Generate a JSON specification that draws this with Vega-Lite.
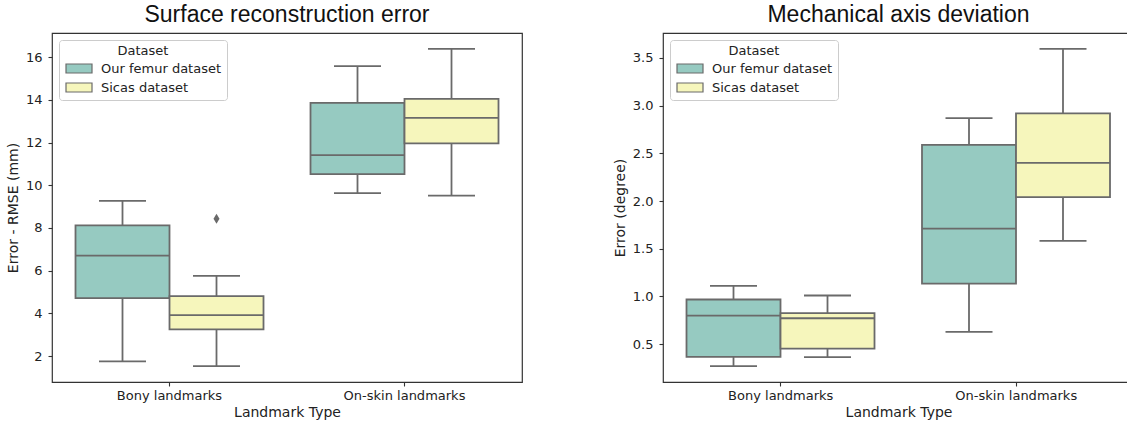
{
  "$schema": "https://vega.github.io/schema/vega-lite/v6.json",
  "background": "white",
  "padding": {"left": 5, "top": 3, "right": 0, "bottom": 0},
  "datasets": {
    "surface": [
      {"type": "Bony landmarks", "dataset": "Our femur dataset", "lower": 1.75, "q1": 4.72, "median": 6.71, "q3": 8.12, "upper": 9.27},
      {"type": "Bony landmarks", "dataset": "Sicas dataset", "lower": 1.53, "q1": 3.25, "median": 3.92, "q3": 4.81, "upper": 5.76},
      {"type": "On-skin landmarks", "dataset": "Our femur dataset", "lower": 9.63, "q1": 10.52, "median": 11.41, "q3": 13.86, "upper": 15.58},
      {"type": "On-skin landmarks", "dataset": "Sicas dataset", "lower": 9.52, "q1": 11.96, "median": 13.16, "q3": 14.05, "upper": 16.39}
    ],
    "surface_outliers": [
      {"type": "Bony landmarks", "dataset": "Sicas dataset", "value": 8.43}
    ],
    "mech": [
      {"type": "Bony landmarks", "dataset": "Our femur dataset", "lower": 0.27, "q1": 0.367, "median": 0.80, "q3": 0.968, "upper": 1.11},
      {"type": "Bony landmarks", "dataset": "Sicas dataset", "lower": 0.364, "q1": 0.454, "median": 0.772, "q3": 0.825, "upper": 1.01},
      {"type": "On-skin landmarks", "dataset": "Our femur dataset", "lower": 0.629, "q1": 1.135, "median": 1.71, "q3": 2.588, "upper": 2.868},
      {"type": "On-skin landmarks", "dataset": "Sicas dataset", "lower": 1.583, "q1": 2.04, "median": 2.40, "q3": 2.917, "upper": 3.594}
    ]
  },
  "hconcat": [
    {
      "width": 470,
      "height": 349,
      "view": {"stroke": "#333333", "strokeWidth": 1.2},
      "title": "Surface reconstruction error",
      "data": {"name": "surface"},
      "encoding": {
        "x": {"field": "type", "type": "nominal", "title": "Landmark Type", "scale": {"paddingInner": 0, "paddingOuter": 0}, "axis": {"labelAngle": 0, "domain": false, "labelPadding": 3, "titlePadding": 3}},
        "xOffset": {"field": "dataset", "type": "nominal", "scale": {"paddingInner": 0, "paddingOuter": 0.25}}
      },
      "layer": [
        {
          "mark": {"type": "rule", "color": "#6a6a6a", "strokeWidth": 1.8},
          "encoding": {
            "y": {"field": "lower", "type": "quantitative", "title": "Error - RMSE (mm)", "scale": {"domain": [0.787, 17.133], "nice": false, "zero": false}, "axis": {"values": [2, 4, 6, 8, 10, 12, 14, 16], "domain": false, "labelPadding": 6, "titlePadding": 5}},
            "y2": {"field": "upper"}
          }
        },
        {
          "mark": {"type": "bar", "stroke": "#6a6a6a", "strokeWidth": 1.8},
          "encoding": {
            "y": {"field": "q1", "type": "quantitative", "title": "Error - RMSE (mm)"},
            "y2": {"field": "q3"},
            "fill": {
              "field": "dataset", "type": "nominal",
              "scale": {"domain": ["Our femur dataset", "Sicas dataset"], "range": ["#96cac1", "#f6f6bc"]},
              "legend": {"orient": "top-left", "offset": 7, "title": "Dataset"}
            }
          }
        },
        {
          "mark": {"type": "tick", "color": "#6a6a6a", "size": 94, "thickness": 1.8, "opacity": 1},
          "encoding": {"y": {"field": "median", "type": "quantitative", "title": "Error - RMSE (mm)"}}
        },
        {
          "mark": {"type": "tick", "color": "#6a6a6a", "size": 47, "thickness": 1.8, "opacity": 1},
          "encoding": {"y": {"field": "lower", "type": "quantitative", "title": "Error - RMSE (mm)"}}
        },
        {
          "mark": {"type": "tick", "color": "#6a6a6a", "size": 47, "thickness": 1.8, "opacity": 1},
          "encoding": {"y": {"field": "upper", "type": "quantitative", "title": "Error - RMSE (mm)"}}
        },
        {
          "data": {"name": "surface_outliers"},
          "mark": {"type": "point", "shape": "M0,-1L0.6,0L0,1L-0.6,0Z", "filled": true, "color": "#6a6a6a", "size": 100, "opacity": 1},
          "encoding": {"y": {"field": "value", "type": "quantitative", "title": "Error - RMSE (mm)"}}
        }
      ]
    },
    {
      "width": 471,
      "height": 349,
      "view": {"stroke": "#333333", "strokeWidth": 1.2},
      "title": "Mechanical axis deviation",
      "data": {"name": "mech"},
      "encoding": {
        "x": {"field": "type", "type": "nominal", "title": "Landmark Type", "scale": {"paddingInner": 0, "paddingOuter": 0}, "axis": {"labelAngle": 0, "domain": false, "labelPadding": 3, "titlePadding": 3}},
        "xOffset": {"field": "dataset", "type": "nominal", "scale": {"paddingInner": 0, "paddingOuter": 0.25}}
      },
      "layer": [
        {
          "mark": {"type": "rule", "color": "#6a6a6a", "strokeWidth": 1.8},
          "encoding": {
            "y": {"field": "lower", "type": "quantitative", "title": "Error (degree)", "scale": {"domain": [0.104, 3.76], "nice": false, "zero": false}, "axis": {"values": [0.5, 1, 1.5, 2, 2.5, 3, 3.5], "format": ".1f", "domain": false, "labelPadding": 6, "titlePadding": 5}},
            "y2": {"field": "upper"}
          }
        },
        {
          "mark": {"type": "bar", "stroke": "#6a6a6a", "strokeWidth": 1.8},
          "encoding": {
            "y": {"field": "q1", "type": "quantitative", "title": "Error (degree)"},
            "y2": {"field": "q3"},
            "fill": {
              "field": "dataset", "type": "nominal",
              "scale": {"domain": ["Our femur dataset", "Sicas dataset"], "range": ["#96cac1", "#f6f6bc"]},
              "legend": {"orient": "top-left", "offset": 7, "title": "Dataset"}
            }
          }
        },
        {
          "mark": {"type": "tick", "color": "#6a6a6a", "size": 94, "thickness": 1.8, "opacity": 1},
          "encoding": {"y": {"field": "median", "type": "quantitative", "title": "Error (degree)"}}
        },
        {
          "mark": {"type": "tick", "color": "#6a6a6a", "size": 47, "thickness": 1.8, "opacity": 1},
          "encoding": {"y": {"field": "lower", "type": "quantitative", "title": "Error (degree)"}}
        },
        {
          "mark": {"type": "tick", "color": "#6a6a6a", "size": 47, "thickness": 1.8, "opacity": 1},
          "encoding": {"y": {"field": "upper", "type": "quantitative", "title": "Error (degree)"}}
        }
      ]
    }
  ],
  "spacing": 141,
  "bounds": "flush",
  "resolve": {"legend": {"fill": "independent"}},
  "config": {
    "font": "DejaVu Sans",
    "axis": {
      "labelFont": "DejaVu Sans", "labelFontSize": 13, "labelColor": "#222222",
      "titleFont": "DejaVu Sans", "titleFontSize": 14, "titleFontWeight": "normal", "titleColor": "#222222",
      "tickColor": "#333333", "tickSize": 4, "tickWidth": 1.1, "grid": false
    },
    "title": {"font": "Liberation Sans", "fontSize": 23, "fontWeight": "normal", "color": "#111111", "baseline": "alphabetic", "offset": 6, "anchor": "middle"},
    "legend": {
      "titleFont": "DejaVu Sans", "titleFontSize": 13, "titleFontWeight": "normal", "titleColor": "#222222", "titleAnchor": "middle",
      "labelFont": "DejaVu Sans", "labelFontSize": 13, "labelColor": "#222222",
      "fillColor": "rgba(255,255,255,0.85)", "strokeColor": "#cccccc", "cornerRadius": 3, "padding": 5,
      "symbolType": "M-2.889,-1L2.889,-1L2.889,1L-2.889,1Z", "symbolSize": 81, "symbolOffset": 8.5,
      "symbolStrokeColor": "#6a6a6a", "symbolStrokeWidth": 1.2,
      "labelOffset": 15.5, "rowPadding": 4, "titlePadding": 4
    }
  }
}
